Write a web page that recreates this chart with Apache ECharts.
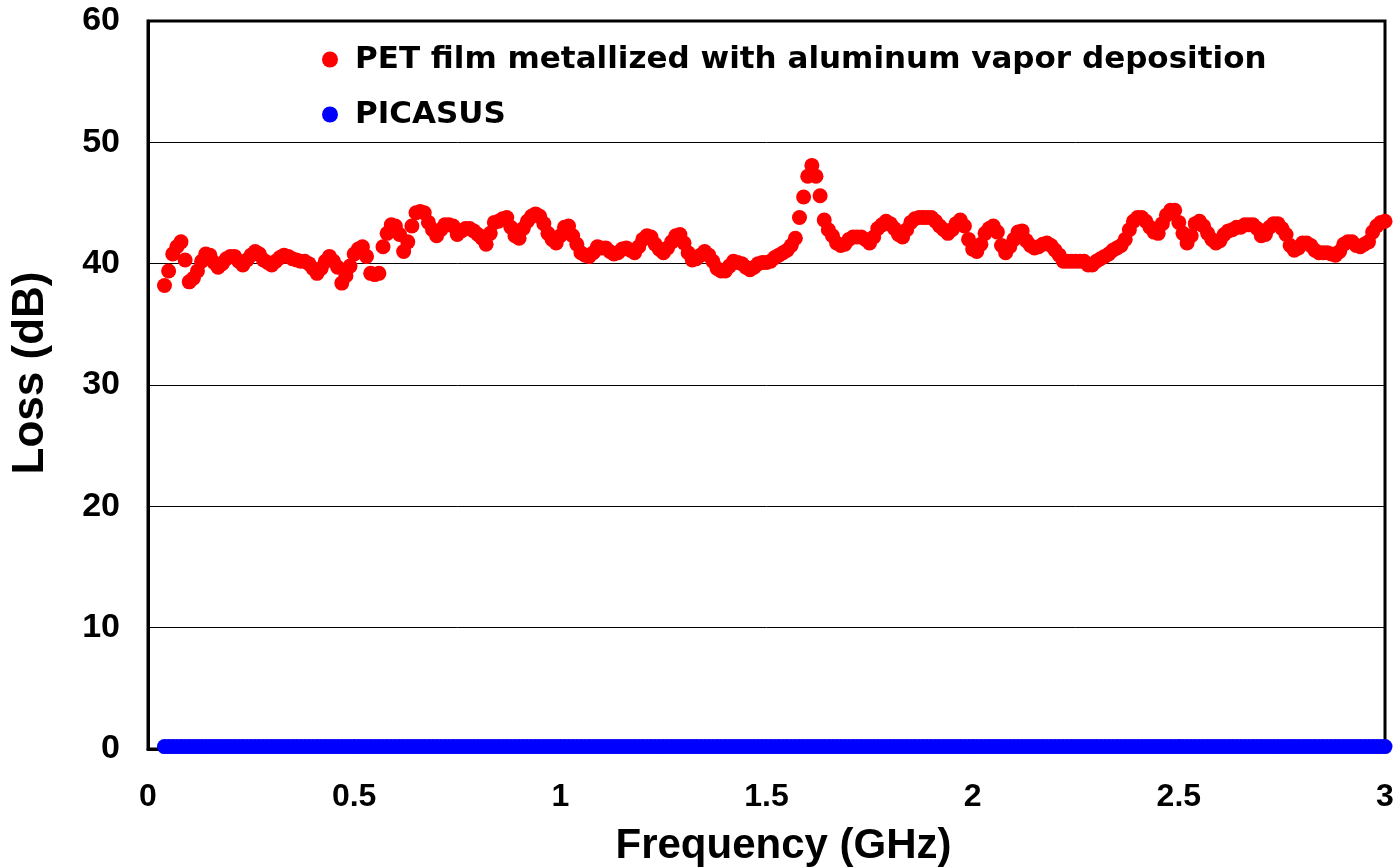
<!DOCTYPE html>
<html>
<head>
<meta charset="utf-8">
<script src="https://cdn.jsdelivr.net/npm/echarts@6/dist/echarts.min.js"></script>
<style>
  html, body { margin: 0; padding: 0; background: #fff; }
  #chart { width: 1395px; height: 867px; }
</style>
</head>
<body>
<div id="chart"></div>
<script>
// frequency sweep, GHz (0.04 .. 3.00, 0.01 step)
var freqStart = 0.04;
var freqStep = 0.01;
var xTicks = ['0', '0.5', '1', '1.5', '2', '2.5', '3'];
var yTicks = ['0', '10', '20', '30', '40', '50', '60'];

var seriesNames = ['PET film metallized with aluminum vapor deposition', 'PICASUS'];

// loss, dB
var petLoss = [
    38.2, 39.4, 40.8, 41.4, 41.8, 40.3,
    38.5, 38.8, 39.4, 40.2, 40.8, 40.7, 40.1, 39.7, 40.0, 40.4,
    40.6, 40.6, 40.2, 39.9, 40.3, 40.7, 41.0, 40.8, 40.3, 40.1,
    39.9, 40.2, 40.5, 40.7, 40.6, 40.4, 40.3, 40.2, 40.2, 40.0,
    39.6, 39.2, 39.6, 40.2, 40.6, 40.2, 39.7, 38.4, 39.0, 39.8,
    40.8, 41.2, 41.4, 40.6, 39.2, 39.1, 39.2, 41.4, 42.5, 43.2,
    43.1, 42.4, 41.0, 41.8, 43.1, 44.2, 44.3, 44.2, 43.4, 42.8,
    42.3, 42.8, 43.2, 43.2, 43.1, 42.4, 42.7, 42.9, 42.9, 42.7,
    42.4, 42.1, 41.6, 42.5, 43.4, 43.5, 43.7, 43.8, 43.0, 42.3,
    42.1, 42.9, 43.5, 43.9, 44.1, 43.9, 43.3, 42.5, 42.0, 41.7,
    42.3, 43.0, 43.1, 42.3, 41.6, 40.9, 40.7, 40.6, 40.9, 41.4,
    41.3, 41.3, 41.0, 40.8, 40.9, 41.2, 41.3, 41.1, 40.9, 41.4,
    42.0, 42.3, 42.2, 41.6, 41.2, 40.9, 41.3, 41.8, 42.3, 42.4,
    41.7, 40.9, 40.3, 40.4, 40.7, 41.0, 40.7, 40.2, 39.6, 39.4,
    39.4, 39.8, 40.2, 40.1, 40.0, 39.7, 39.5, 39.7, 40.0, 40.1,
    40.1, 40.2, 40.5, 40.7, 40.9, 41.1, 41.5, 42.1, 43.8, 45.5,
    47.2, 48.1, 47.2, 45.6, 43.6, 42.8, 42.3, 41.7, 41.5, 41.6,
    42.0, 42.2, 42.2, 42.2, 42.0, 41.7, 42.2, 42.9, 43.2, 43.5,
    43.3, 42.9, 42.4, 42.2, 42.8, 43.4, 43.7, 43.8, 43.8, 43.8,
    43.8, 43.5, 43.1, 42.8, 42.5, 42.8, 43.3, 43.6, 43.1, 42.0,
    41.2, 41.0, 41.6, 42.5, 42.9, 43.1, 42.6, 41.5, 40.9, 41.4,
    42.0, 42.6, 42.7, 41.9, 41.5, 41.3, 41.4, 41.6, 41.7, 41.5,
    41.1, 40.7, 40.2, 40.2, 40.2, 40.2, 40.2, 40.2, 39.9, 39.9,
    40.2, 40.4, 40.6, 40.8, 41.1, 41.3, 41.5, 42.0, 42.8, 43.5,
    43.8, 43.8, 43.5, 43.0, 42.6, 42.5, 43.3, 44.0, 44.4, 44.4,
    43.4, 42.5, 41.7, 42.3, 43.3, 43.5, 43.1, 42.5, 42.0, 41.7,
    41.9, 42.4, 42.7, 42.8, 43.0, 43.0, 43.2, 43.2, 43.2, 42.9,
    42.3, 42.4, 43.0, 43.3, 43.3, 42.9, 42.4, 41.5, 41.1, 41.3,
    41.7, 41.7, 41.5, 41.1, 40.9, 40.9, 40.9, 40.8, 40.7, 41.0,
    41.6, 41.8, 41.8, 41.5, 41.4, 41.6, 41.8, 42.6, 43.1, 43.4,
    43.5
];

var picasusLoss = [
    0.2, 0.2, 0.2, 0.2, 0.2, 0.2,
    0.2, 0.2, 0.2, 0.2, 0.2, 0.2, 0.2, 0.2, 0.2, 0.2,
    0.2, 0.2, 0.2, 0.2, 0.2, 0.2, 0.2, 0.2, 0.2, 0.2,
    0.2, 0.2, 0.2, 0.2, 0.2, 0.2, 0.2, 0.2, 0.2, 0.2,
    0.2, 0.2, 0.2, 0.2, 0.2, 0.2, 0.2, 0.2, 0.2, 0.2,
    0.2, 0.2, 0.2, 0.2, 0.2, 0.2, 0.2, 0.2, 0.2, 0.2,
    0.2, 0.2, 0.2, 0.2, 0.2, 0.2, 0.2, 0.2, 0.2, 0.2,
    0.2, 0.2, 0.2, 0.2, 0.2, 0.2, 0.2, 0.2, 0.2, 0.2,
    0.2, 0.2, 0.2, 0.2, 0.2, 0.2, 0.2, 0.2, 0.2, 0.2,
    0.2, 0.2, 0.2, 0.2, 0.2, 0.2, 0.2, 0.2, 0.2, 0.2,
    0.2, 0.2, 0.2, 0.2, 0.2, 0.2, 0.2, 0.2, 0.2, 0.2,
    0.2, 0.2, 0.2, 0.2, 0.2, 0.2, 0.2, 0.2, 0.2, 0.2,
    0.2, 0.2, 0.2, 0.2, 0.2, 0.2, 0.2, 0.2, 0.2, 0.2,
    0.2, 0.2, 0.2, 0.2, 0.2, 0.2, 0.2, 0.2, 0.2, 0.2,
    0.2, 0.2, 0.2, 0.2, 0.2, 0.2, 0.2, 0.2, 0.2, 0.2,
    0.2, 0.2, 0.2, 0.2, 0.2, 0.2, 0.2, 0.2, 0.2, 0.2,
    0.2, 0.2, 0.2, 0.2, 0.2, 0.2, 0.2, 0.2, 0.2, 0.2,
    0.2, 0.2, 0.2, 0.2, 0.2, 0.2, 0.2, 0.2, 0.2, 0.2,
    0.2, 0.2, 0.2, 0.2, 0.2, 0.2, 0.2, 0.2, 0.2, 0.2,
    0.2, 0.2, 0.2, 0.2, 0.2, 0.2, 0.2, 0.2, 0.2, 0.2,
    0.2, 0.2, 0.2, 0.2, 0.2, 0.2, 0.2, 0.2, 0.2, 0.2,
    0.2, 0.2, 0.2, 0.2, 0.2, 0.2, 0.2, 0.2, 0.2, 0.2,
    0.2, 0.2, 0.2, 0.2, 0.2, 0.2, 0.2, 0.2, 0.2, 0.2,
    0.2, 0.2, 0.2, 0.2, 0.2, 0.2, 0.2, 0.2, 0.2, 0.2,
    0.2, 0.2, 0.2, 0.2, 0.2, 0.2, 0.2, 0.2, 0.2, 0.2,
    0.2, 0.2, 0.2, 0.2, 0.2, 0.2, 0.2, 0.2, 0.2, 0.2,
    0.2, 0.2, 0.2, 0.2, 0.2, 0.2, 0.2, 0.2, 0.2, 0.2,
    0.2, 0.2, 0.2, 0.2, 0.2, 0.2, 0.2, 0.2, 0.2, 0.2,
    0.2, 0.2, 0.2, 0.2, 0.2, 0.2, 0.2, 0.2, 0.2, 0.2,
    0.2, 0.2, 0.2, 0.2, 0.2, 0.2, 0.2, 0.2, 0.2, 0.2,
    0.2
];

function pairs(values) {
    return values.map(function (v, i) {
        return [+(freqStart + i * freqStep).toFixed(2), v];
    });
}

var font = "'Liberation Sans', Arial, sans-serif";
var myChart = echarts.init(document.getElementById('chart'));

var option = {
    backgroundColor: '#fff',
    animation: false,
    grid: {
        left: 148,
        right: 10,
        top: 21,
        bottom: 118,
        outerBoundsMode: 'none',
        show: true,
        borderColor: '#000',
        borderWidth: 3,
        backgroundColor: 'transparent'
    },
    legend: {
        orient: 'vertical',
        left: 317,
        top: 39,
        itemWidth: 16,
        itemHeight: 16,
        itemGap: 24,
        icon: 'circle',
        textStyle: {
            fontFamily: "'DejaVu Sans', 'Liberation Sans', sans-serif",
            fontWeight: 'bold',
            fontSize: 31,
            color: '#000',
            padding: [0, 0, 0, 12]
        },
        data: seriesNames
    },
    xAxis: {
        type: 'value',
        min: 0,
        max: 3,
        interval: 0.5,
        name: 'Frequency (GHz)',
        nameLocation: 'middle',
        nameGap: 76,
        nameTextStyle: {
            fontFamily: font,
            fontWeight: 'bold',
            fontSize: 42,
            color: '#000',
            padding: [0, 0, 0, 34]
        },
        axisLine: { show: true, lineStyle: { color: '#000', width: 3 } },
        axisTick: { show: true, inside: true, length: 10, lineStyle: { color: '#000', width: 1 } },
        axisLabel: {
            margin: 32,
            fontFamily: font,
            fontWeight: 'bold',
            fontSize: 32,
            color: '#000',
            formatter: function (v) {
                return xTicks[Math.round(v / 0.5)];
            }
        },
        splitLine: { show: false }
    },
    yAxis: {
        type: 'value',
        min: 0,
        max: 60,
        interval: 10,
        name: 'Loss (dB)',
        nameLocation: 'middle',
        nameGap: 95,
        nameTextStyle: {
            fontFamily: font,
            fontWeight: 'bold',
            fontSize: 44,
            color: '#000',
            padding: [0, 0, 0, 24]
        },
        axisLine: { show: true, lineStyle: { color: '#000', width: 3 } },
        axisTick: { show: true, inside: true, length: 10, lineStyle: { color: '#000', width: 1 } },
        axisLabel: {
            margin: 28,
            fontFamily: font,
            fontWeight: 'bold',
            fontSize: 34,
            color: '#000',
            formatter: function (v) {
                return yTicks[Math.round(v / 10)];
            }
        },
        splitLine: { show: true, lineStyle: { color: '#000', width: 1 } }
    },
    series: [{
        name: seriesNames[0],
        type: 'scatter',
        symbol: 'circle',
        symbolSize: 15,
        clip: false,
        itemStyle: { color: '#ff0000', opacity: 1 },
        data: pairs(petLoss)
    }, {
        name: seriesNames[1],
        type: 'scatter',
        symbol: 'circle',
        symbolSize: 15,
        clip: false,
        itemStyle: { color: '#0000ff', opacity: 1 },
        data: pairs(picasusLoss)
    }]
};
myChart.setOption(option);
</script>
</body>
</html>
